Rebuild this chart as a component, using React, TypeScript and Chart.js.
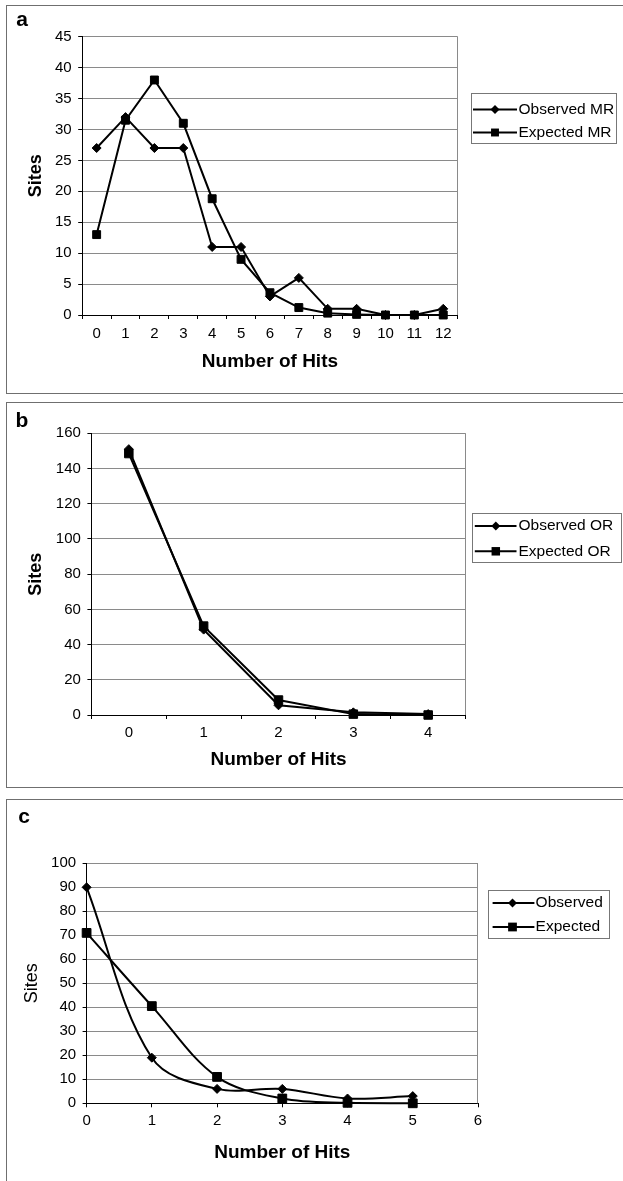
import React, { useEffect, useRef } from 'react';
import { Chart, registerables } from 'chart.js';

Chart.register(...registerables);

// ---------- DATA ----------
const hitsA = ['0', '1', '2', '3', '4', '5', '6', '7', '8', '9', '10', '11', '12'];
const observedMR = [27, 32, 27, 27, 11, 11, 3, 6, 1, 1, 0, 0, 1];
const expectedMR = [13, 31.5, 38, 31, 18.8, 9, 3.6, 1.2, 0.3, 0.1, 0, 0, 0];
const yRangeA = [0, 45, 5];

const hitsB = ['0', '1', '2', '3', '4'];
const observedOR = [151, 48.5, 5.5, 1.5, 0.5];
const expectedOR = [148.5, 50.5, 8.5, 0.5, 0];
const yRangeB = [0, 160, 20];

const hitsC = [0, 1, 2, 3, 4, 5];
const observedC = [90, 19, 6, 6, 2, 3];
const expectedC = [71, 40.5, 11, 2, 0.2, 0];
const xRangeC = [0, 6, 1];
const yRangeC = [0, 100, 10];

const FONT = '"Liberation Sans", Arial, Helvetica, sans-serif';

// ---------- PLUGIN: plot border, boxed legend, panel letter ----------
const decorPlugin = {
  id: 'decor',
  beforeDatasetsDraw(chart: any) {
    const { ctx, chartArea: a } = chart;
    ctx.save();
    ctx.strokeStyle = '#8a8a8a';
    ctx.lineWidth = 1;
    ctx.beginPath();
    ctx.moveTo(Math.round(a.right) - 0.5, a.top);
    ctx.lineTo(Math.round(a.right) - 0.5, a.bottom);
    ctx.stroke();
    ctx.restore();
  },
  afterDraw(chart: any, _args: any, o: any) {
    const { ctx } = chart;
    ctx.save();
    const [x1, y1, x2, y2] = o.box;
    ctx.strokeStyle = '#777';
    ctx.lineWidth = 1;
    ctx.strokeRect(Math.round(x1) + 0.5, Math.round(y1) + 0.5, Math.round(x2 - x1), Math.round(y2 - y1));
    chart.data.datasets.forEach((ds: any, i: number) => {
      const y = o.rows[i];
      ctx.strokeStyle = '#000';
      ctx.lineWidth = 2;
      ctx.beginPath();
      ctx.moveTo(o.lineX[0], y);
      ctx.lineTo(o.lineX[1], y);
      ctx.stroke();
      ctx.fillStyle = '#000';
      ctx.beginPath();
      const mx = o.markerX;
      if (ds.pointStyle === 'rectRot') {
        const r = ds.pointRadius;
        ctx.moveTo(mx, y - r);
        ctx.lineTo(mx + r, y);
        ctx.lineTo(mx, y + r);
        ctx.lineTo(mx - r, y);
        ctx.closePath();
      } else {
        const s = ds.pointRadius * Math.SQRT1_2;
        ctx.rect(mx - s, y - s, 2 * s, 2 * s);
      }
      ctx.fill();
      ctx.font = `${o.legendSize}px ${FONT}`;
      ctx.textAlign = 'left';
      ctx.textBaseline = 'middle';
      ctx.fillText(ds.label, o.textX, y);
    });
    ctx.font = `bold 21px ${FONT}`;
    ctx.textAlign = 'center';
    ctx.textBaseline = 'middle';
    ctx.fillStyle = '#000';
    ctx.fillText(o.letter, o.letterX, o.letterY);
    ctx.restore();
  },
};

function seriesStyle(kind: 'obs' | 'exp', radius: number, tension: number) {
  return {
    borderColor: '#000',
    backgroundColor: '#000',
    borderWidth: 2,
    pointStyle: kind === 'obs' ? 'rectRot' : 'rect',
    pointRadius: radius,
    pointHoverRadius: radius,
    pointBackgroundColor: '#000',
    pointBorderColor: '#000',
    pointBorderWidth: 1,
    tension,
    fill: false,
    clip: 10,
  };
}

type PanelGeom = {
  width: number;
  height: number;
  area: { left: number; top: number; right: number; bottom: number };
  yTitlePad: number;
  yTitleBold: boolean;
  xTickPad: number;
  xHeight: number;
};

function baseOptions(g: PanelGeom, xScale: any, yRange: number[], decor: any) {
  return {
    responsive: false,
    animation: false,
    events: [],
    layout: {
      padding: {
        left: 0,
        top: g.area.top,
        right: g.width - g.area.right,
        bottom: g.height - g.area.bottom - g.xHeight,
      },
    },
    plugins: {
      legend: { display: false },
      tooltip: { enabled: false },
      decor,
    },
    scales: {
      x: {
        ...xScale,
        grid: { offset: xScale.type === 'category', drawOnChartArea: false, tickColor: '#000', tickLength: 4 },
        border: { color: '#000', width: 1 },
        ticks: {
          ...(xScale.ticks || {}),
          color: '#000',
          font: { size: 15, family: FONT },
          padding: g.xTickPad,
          maxRotation: 0,
          autoSkip: false,
        },
        title: {
          display: true,
          text: 'Number of Hits',
          color: '#000',
          font: { size: 19, weight: 'bold', family: FONT },
          padding: 0,
        },
        afterFit(s: any) {
          s.height = g.xHeight;
        },
      },
      y: {
        min: yRange[0],
        max: yRange[1],
        ticks: { stepSize: yRange[2], color: '#000', font: { size: 15, family: FONT }, padding: 6.5 },
        grid: { color: '#8a8a8a', tickColor: '#000', tickLength: 4, lineWidth: 1 },
        border: { color: '#000', width: 1 },
        title: {
          display: true,
          text: 'Sites',
          color: '#000',
          font: { size: 18, weight: g.yTitleBold ? 'bold' : 'normal', family: FONT },
          padding: { top: g.yTitlePad, bottom: 0 },
        },
        afterFit(s: any) {
          s.width = g.area.left;
        },
      },
    },
  };
}

function makeConfigA() {
  const g: PanelGeom = {
    width: 623, height: 395,
    area: { left: 82.2, top: 36.7, right: 457.7, bottom: 315 },
    yTitlePad: 25, yTitleBold: true, xTickPad: 6, xHeight: 58.4,
  };
  return {
    geom: g,
    config: {
      type: 'line',
      data: {
        labels: hitsA,
        datasets: [
          { label: 'Observed MR', data: observedMR, ...seriesStyle('obs', 4.5, 0) },
          { label: 'Expected MR', data: expectedMR, ...seriesStyle('exp', 5.6, 0) },
        ],
      },
      options: baseOptions(g, { type: 'category', offset: true }, yRangeA, {
        box: [470.7, 93.3, 615.7, 143.3],
        rows: [109.5, 132.5],
        lineX: [473, 517],
        markerX: 495,
        textX: 518.5,
        legendSize: 15.5,
        letter: 'a', letterX: 22, letterY: 20,
      }),
      plugins: [decorPlugin],
    },
  };
}

function makeConfigB() {
  const g: PanelGeom = {
    width: 623, height: 390,
    area: { left: 91.4, top: 33.3, right: 465.6, bottom: 315 },
    yTitlePad: 25, yTitleBold: true, xTickPad: 5, xHeight: 56.4,
  };
  return {
    geom: g,
    config: {
      type: 'line',
      data: {
        labels: hitsB,
        datasets: [
          { label: 'Observed OR', data: observedOR, ...seriesStyle('obs', 4.5, 0) },
          { label: 'Expected OR', data: expectedOR, ...seriesStyle('exp', 6, 0) },
        ],
      },
      options: baseOptions(g, { type: 'category', offset: true }, yRangeB, {
        box: [471.6, 113, 620.6, 162],
        rows: [126, 151.3],
        lineX: [474.8, 516.5],
        markerX: 495.8,
        textX: 518.5,
        legendSize: 15.5,
        letter: 'b', letterX: 22, letterY: 21,
      }),
      plugins: [decorPlugin],
    },
  };
}

function makeConfigC() {
  const g: PanelGeom = {
    width: 623, height: 384,
    area: { left: 86.6, top: 66.3, right: 478, bottom: 306.3 },
    yTitlePad: 21, yTitleBold: false, xTickPad: 5, xHeight: 61.1,
  };
  return {
    geom: g,
    config: {
      type: 'line',
      data: {
        datasets: [
          {
            label: 'Observed',
            data: hitsC.map((x, i) => ({ x, y: observedC[i] })),
            ...seriesStyle('obs', 4.5, 0.35),
          },
          {
            label: 'Expected',
            data: hitsC.map((x, i) => ({ x, y: expectedC[i] })),
            ...seriesStyle('exp', 6.2, 0.35),
          },
        ],
      },
      options: baseOptions(
        g,
        { type: 'linear', min: xRangeC[0], max: xRangeC[1], ticks: { stepSize: xRangeC[2] } },
        yRangeC,
        {
          box: [488, 93, 609, 141],
          rows: [106, 130],
          lineX: [492.6, 534.4],
          markerX: 512.5,
          textX: 535.6,
          legendSize: 15.5,
          letter: 'c', letterX: 24, letterY: 20,
        }
      ),
      plugins: [decorPlugin],
    },
  };
}

function Panel({ make, top }: { make: () => any; top: number }) {
  const ref = useRef<HTMLCanvasElement | null>(null);
  const built = make();
  useEffect(() => {
    if (!ref.current) return;
    const chart = new Chart(ref.current, built.config as any);
    return () => chart.destroy();
  }, []);
  return (
    <canvas
      ref={ref}
      width={built.geom.width}
      height={built.geom.height}
      style={{
        position: 'absolute',
        left: 0,
        top,
        width: built.geom.width,
        height: built.geom.height,
      }}
    />
  );
}

const frameStyle = (top: number, height: number): React.CSSProperties => ({
  position: 'absolute',
  left: 6,
  top,
  width: 660,
  height,
  border: '1px solid #6f6f6f',
  boxSizing: 'border-box',
});

export default function App() {
  return (
    <div
      style={{
        position: 'absolute',
        left: 0,
        top: 0,
        width: 623,
        height: 1181,
        overflow: 'hidden',
        background: '#fff',
      }}
    >
      <div style={frameStyle(5, 389)} />
      <div style={frameStyle(402, 386)} />
      <div style={frameStyle(799, 420)} />
      <Panel make={makeConfigA} top={0} />
      <Panel make={makeConfigB} top={400} />
      <Panel make={makeConfigC} top={797} />
    </div>
  );
}
